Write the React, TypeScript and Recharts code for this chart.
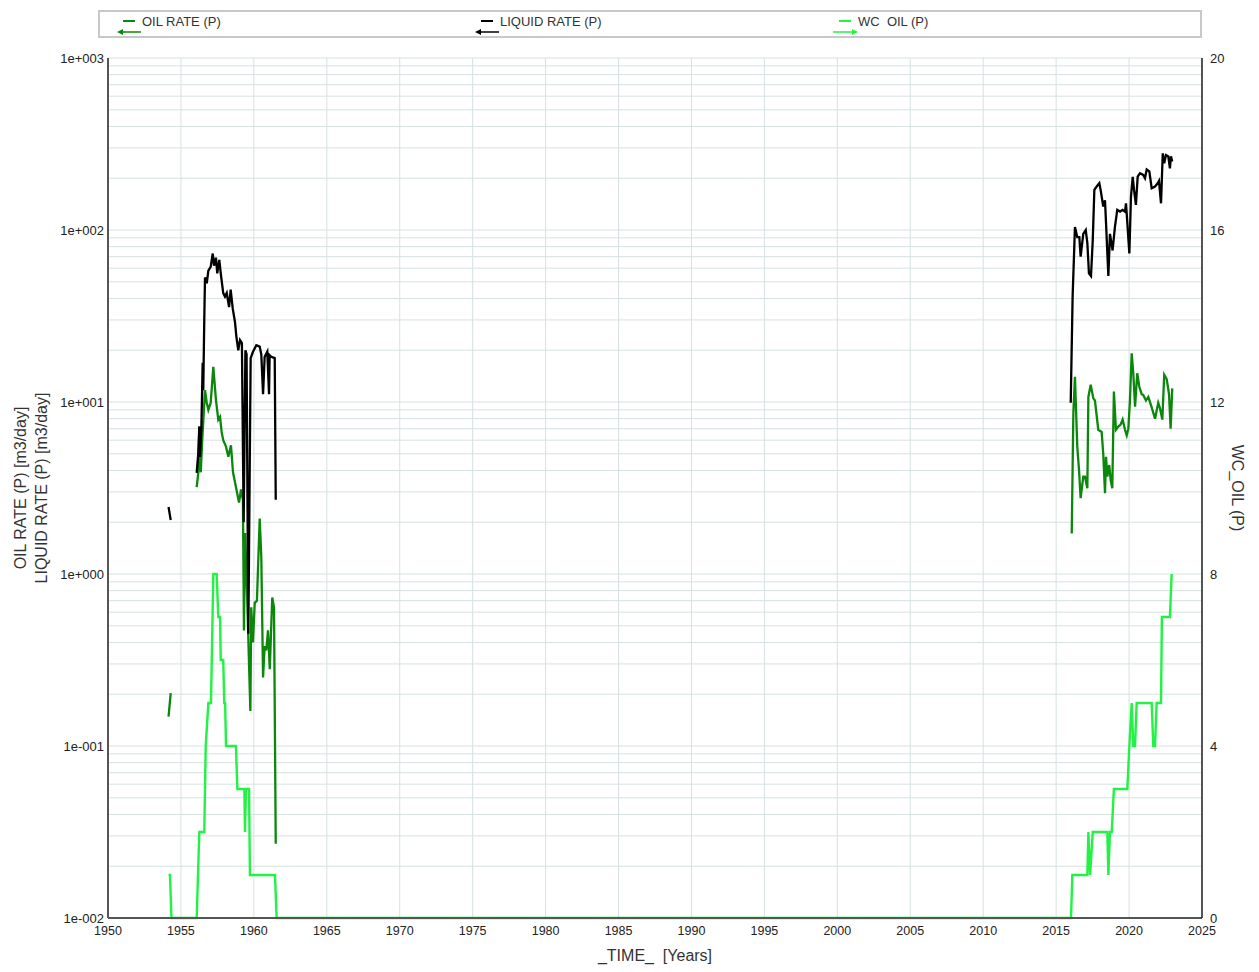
import { LineChart, Line, XAxis, YAxis, CartesianGrid, Label } from 'recharts';

const yearTicks = [1950, 1955, 1960, 1965, 1970, 1975, 1980, 1985, 1990, 1995, 2000, 2005, 2010, 2015, 2020, 2025];
const wcTicks = [0, 4, 8, 12, 16, 20];

// LIQUID RATE (P) [m3/day] - null = no production (line break)
const liquidYears = [
  1954.15, 1954.3, 1955.0,
  1956.08, 1956.19, 1956.26, 1956.31, 1956.4, 1956.49, 1956.53, 1956.6, 1956.65, 1956.77, 1956.88,
  1957.04, 1957.18, 1957.27, 1957.4, 1957.49, 1957.63, 1957.73, 1957.9, 1958.02, 1958.14, 1958.3,
  1958.41, 1958.55, 1958.71, 1958.8, 1958.93, 1959.05, 1959.18, 1959.3, 1959.42, 1959.5, 1959.62,
  1959.78, 1959.94, 1960.17, 1960.4, 1960.51, 1960.63, 1960.74, 1960.92, 1961.04, 1961.08, 1961.19,
  1961.43, 1961.5, 1990.0,
  2016.0, 2016.13, 2016.29, 2016.45, 2016.59, 2016.68, 2016.86, 2017.03, 2017.14, 2017.25, 2017.39,
  2017.51, 2017.62, 2017.78, 2017.96, 2018.05, 2018.23, 2018.35, 2018.42, 2018.58, 2018.69, 2018.87,
  2019.03, 2019.19, 2019.38, 2019.56, 2019.72, 2019.79, 2019.88, 2020.02, 2020.13, 2020.25, 2020.34,
  2020.47, 2020.59, 2020.75, 2020.97, 2021.09, 2021.21, 2021.39, 2021.55, 2021.78, 2021.96, 2022.05,
  2022.19, 2022.31, 2022.41, 2022.53, 2022.69, 2022.8, 2022.87, 2022.96,
];
const liquidRates = [
  2.45, 2.06, null,
  3.87, 5.05, 7.2, 4.8, 7.0, 16.9, 11.7, 30, 53, 49, 58,
  61, 73, 62, 69, 56, 67, 56, 43, 41, 43, 35.6,
  45, 35, 29, 24, 20, 22.9, 22, 2.0, 20, 19, 0.45,
  18, 19.6, 21.4, 21, 18.9, 11.1, 18.3, 19.6, 11.1, 18.7, 18.3,
  18, 2.7, null,
  9.9, 41, 104, 91, 91, 70, 95, 100, 84, 56, 54,
  87, 171, 179, 187, 171, 137, 149, 110, 54, 95, 76,
  104, 131, 128, 131, 128, 143, 110, 73, 156, 204, 171,
  140, 204, 214, 209, 200, 225, 219, 175, 179, 187, 193,
  143, 279, 244, 273, 268, 228, 268, 250,
];

// OIL RATE (P) [m3/day]
const oilYears = [
  1954.15, 1954.3, 1955.0,
  1956.08, 1956.19, 1956.26, 1956.36, 1956.46, 1956.65, 1956.77, 1956.88, 1957.04, 1957.22, 1957.4,
  1957.56, 1957.68, 1957.79, 1957.9, 1958.09, 1958.25, 1958.43, 1958.57, 1958.84, 1958.98, 1959.12,
  1959.25, 1959.32, 1959.4, 1959.5, 1959.76, 1959.82, 1959.94, 1960.06, 1960.21, 1960.4, 1960.51,
  1960.63, 1960.74, 1960.85, 1960.97, 1961.09, 1961.26, 1961.38, 1961.5, 1990.0,
  2016.07, 2016.18, 2016.29, 2016.45, 2016.57, 2016.68, 2016.86, 2016.98, 2017.14, 2017.21, 2017.37,
  2017.55, 2017.66, 2017.89, 2018.12, 2018.23, 2018.35, 2018.42, 2018.51, 2018.64, 2018.74, 2018.85,
  2018.96, 2019.1, 2019.26, 2019.42, 2019.56, 2019.72, 2019.84, 2019.95, 2020.06, 2020.18, 2020.29,
  2020.41, 2020.56, 2020.7, 2020.86, 2020.97, 2021.16, 2021.32, 2021.55, 2021.78, 2022.0, 2022.12,
  2022.28, 2022.41, 2022.58, 2022.74, 2022.85, 2022.96,
];
const oilRates = [
  0.148, 0.203, null,
  3.2, 3.87, 7.2, 3.9, 6.0, 11.7, 9.9, 9.0, 9.9, 16, 10.3,
  7.9, 8.2, 6.7, 6.0, 5.5, 4.8, 5.6, 3.9, 3.0, 2.6, 3.1,
  2.7, 0.47, 1.73, 0.96, 0.16, 0.64, 0.4, 0.68, 0.7, 2.1, 1.26,
  0.25, 0.38, 0.36, 0.47, 0.28, 0.73, 0.64, 0.027, null,
  1.72, 8.6, 14.0, 5.5, 4.0, 2.76, 3.68, 3.68, 3.15, 10.7, 12.6,
  10.5, 10.2, 6.9, 6.7, 5.0, 2.95, 4.8, 3.68, 4.3, 3.5, 3.15,
  11.5, 6.9, 7.2, 7.4, 7.9, 6.9, 6.4, 7.0, 10.2, 19.2, 14.7,
  9.4, 14.7, 12.3, 11.1, 11, 10.2, 10.7, 9.3, 8.0, 9.9, 9.2,
  7.9, 14.4, 13.6, 11.1, 7.0, 12.0,
];

// WC_OIL (P)
const wcYears = [
  1954.15, 1954.25, 1954.35, 1956.08, 1956.26, 1956.6, 1956.7, 1956.88, 1957.06, 1957.22, 1957.45,
  1957.56, 1957.68, 1957.73, 1957.9, 1957.97, 1958.03, 1958.09, 1958.77, 1958.87, 1959.35, 1959.39,
  1959.46, 1959.67, 1959.73, 1961.45, 1961.56,
  2016.02, 2016.11, 2017.14, 2017.21, 2017.33, 2017.51, 2018.51, 2018.58, 2018.69, 2018.81, 2018.96,
  2019.88, 2020.02, 2020.18, 2020.29, 2020.41, 2020.52, 2021.55, 2021.66, 2021.78, 2021.89, 2022.19,
  2022.25, 2022.8, 2022.92,
];
const wcValues = [
  1, 1, 0, 0, 2, 2, 4, 5, 5, 8, 8,
  7, 7, 6, 6, 5, 5, 4, 4, 3, 3, 2,
  3, 3, 1, 1, 0,
  0, 1, 1, 2, 1, 2, 2, 1, 2, 2, 3,
  3, 4, 5, 4, 4, 5, 5, 4, 4, 5, 5,
  7, 7, 8,
];

const rows = (ts: number[], vs: (number | null)[]) => ts.map((t, i) => ({ t, v: vs[i] }));

const leftTicks: number[] = [];
for (let e = -2; e < 3; e++) {
  for (let m = 1; m < 10; m++) leftTicks.push(Number((m * Math.pow(10, e)).toPrecision(3)));
}
leftTicks.push(1000);

const fmtLog = (v: number) => {
  const e = Math.log10(v);
  if (Math.abs(e - Math.round(e)) > 1e-6) return '';
  const r = Math.round(e);
  return `1e${r < 0 ? '-' : '+'}${String(Math.abs(r)).padStart(3, '0')}`;
};

const FONT = '"Liberation Sans", Arial, sans-serif';
const xTick = { fontSize: 12.5, fill: '#222', fontFamily: FONT };
const yTick = { fontSize: 13, fill: '#222', fontFamily: FONT };
const titleStyle = { fontSize: 16, fill: '#333', textAnchor: 'middle' as const, fontFamily: FONT };

function LegendItem({ x, color, text, right }: { x: number; color: string; text: string; right?: boolean }) {
  return (
    <div style={{ position: 'absolute', left: x, top: 10, height: 28 }}>
      <svg width={30} height={28} style={{ position: 'absolute', left: 0, top: 0 }}>
        <line x1={6} x2={18} y1={11} y2={11} stroke={color} strokeWidth={2} />
        <line x1={right ? 0 : 3} x2={right ? 21 : 24} y1={22} y2={22} stroke={color} strokeWidth={1.5} />
        {right
          ? <polygon points="25,22 19,19 19,25" fill={color} />
          : <polygon points="0,22 6,19 6,25" fill={color} />}
      </svg>
      <span style={{
        position: 'absolute', left: 25, top: 4, fontSize: 13, lineHeight: '15px',
        whiteSpace: 'pre', color: '#333', fontFamily: FONT,
      }}>{text}</span>
    </div>
  );
}

export default function App() {
  return (
    <div style={{ position: 'absolute', left: 0, top: 0, width: 1259, height: 972, background: '#fff' }}>
      <div style={{
        position: 'absolute', left: 98, top: 10, width: 1104, height: 28,
        border: '2px solid #c8c8c8', boxSizing: 'border-box',
      }} />
      <LegendItem x={117} color="#0b870b" text="OIL RATE (P)" />
      <LegendItem x={475} color="#000" text="LIQUID RATE (P)" />
      <LegendItem x={833} color="#22f244" text={'WC\u00a0\u00a0OIL (P)'} right />

      <LineChart width={1259} height={972} margin={{ top: 58, right: 0, bottom: 0, left: 0 }}
        style={{ fontFamily: FONT }}>
        <CartesianGrid yAxisId="left" stroke="#d6e1e1" strokeWidth={1} />
        <XAxis dataKey="t" type="number" domain={[1950, 2025]} ticks={yearTicks} interval={0}
          allowDataOverflow height={54} tick={xTick} tickLine={false}
          axisLine={{ stroke: '#555', strokeWidth: 2 }}>
          <Label value={'_TIME_\u00a0\u00a0[Years]'} position="insideBottom" offset={11}
            style={titleStyle} />
        </XAxis>
        <YAxis yAxisId="left" type="number" scale="log" domain={[0.01, 1000]} ticks={leftTicks}
          interval={0} allowDataOverflow width={108} tick={yTick} tickFormatter={fmtLog}
          tickLine={false} tickSize={2} tickMargin={2} axisLine={{ stroke: '#555', strokeWidth: 2 }}>
          <Label value="OIL RATE (P) [m3/day]" angle={-90} position="insideLeft" offset={20} style={titleStyle} />
          <Label value="LIQUID RATE (P) [m3/day]" angle={-90} position="insideLeft" offset={41} style={titleStyle} />
        </YAxis>
        <YAxis yAxisId="right" orientation="right" type="number" domain={[0, 20]} ticks={wcTicks}
          interval={0} width={57} tick={yTick} tickLine={false}
          axisLine={{ stroke: '#222', strokeWidth: 1.5 }}>
          <Label value="WC_OIL (P)" angle={90} position="insideRight" offset={21} style={titleStyle} />
        </YAxis>
        <Line yAxisId="right" data={rows(wcYears, wcValues)} dataKey="v" stroke="#22f244" strokeWidth={2.4}
          dot={false} activeDot={false} type="linear" isAnimationActive={false} />
        <Line yAxisId="left" data={rows(oilYears, oilRates)} dataKey="v" stroke="#0b870b" strokeWidth={2.3}
          dot={false} activeDot={false} type="linear" isAnimationActive={false} />
        <Line yAxisId="left" data={rows(liquidYears, liquidRates)} dataKey="v" stroke="#000" strokeWidth={2.3}
          dot={false} activeDot={false} type="linear" isAnimationActive={false} />
      </LineChart>
    </div>
  );
}
